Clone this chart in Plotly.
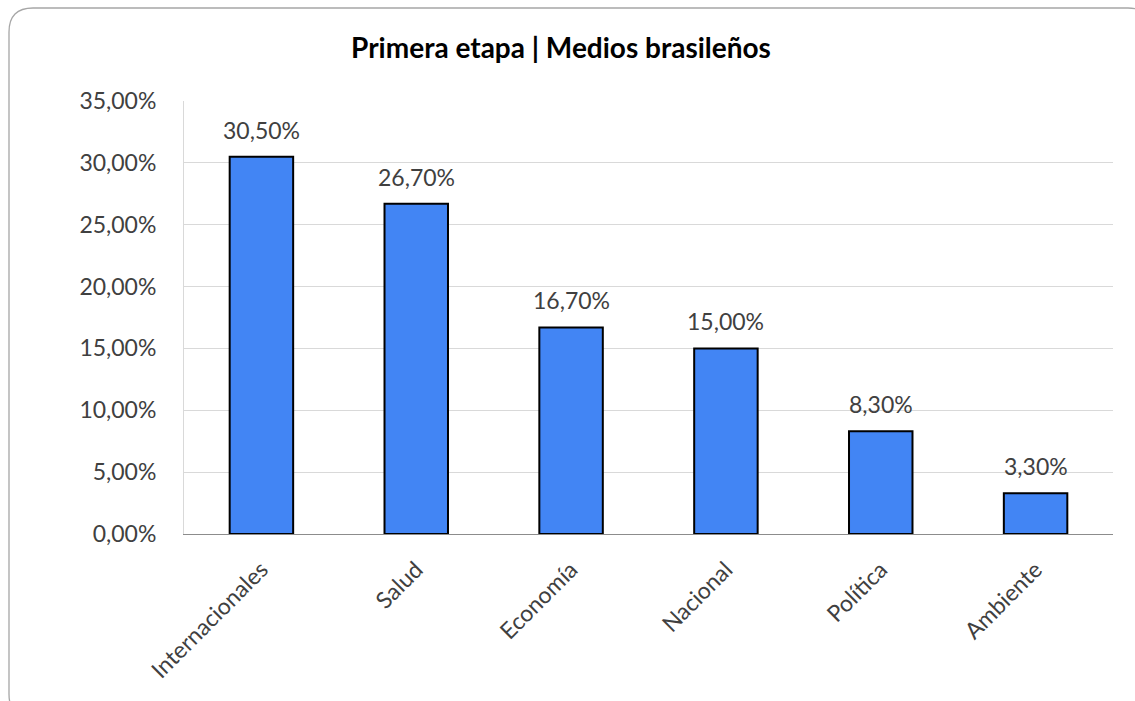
import plotly.graph_objects as go

# Topic shares for the first stage, Brazilian media
categories = ["Internacionales", "Salud", "Economía", "Nacional", "Política", "Ambiente"]
shares = [0.305, 0.267, 0.167, 0.150, 0.083, 0.033]
y_ticks = [0.0, 0.05, 0.10, 0.15, 0.20, 0.25, 0.30, 0.35]

W, H = 1135, 701
L, R, T, B = 184, 1113, 101, 534  # plot-area edges in pixels

TEXT = "#404040"
FONT = "Lato"


def pct_es(v):
    return f"{v * 100:.2f}%".replace(".", ",")


fig = go.Figure()
fig.add_trace(go.Bar(
    x=categories,
    y=shares,
    marker=dict(color="#4285F4", line=dict(color="#000000", width=2)),
    width=0.41,
    hoverinfo="x+y",
))

# Value labels above each bar
for c, v in zip(categories, shares):
    fig.add_annotation(
        x=c, y=v, text=pct_es(v), showarrow=False,
        yanchor="middle", yshift=27,
        font=dict(family=FONT, size=23, color=TEXT),
    )


# Rounded frame around the whole chart, expressed in paper units
def px(x):
    return (x - L) / (R - L)


def py(y):
    return (B - y) / (B - T)


x0, y0, x1, y1, r = 9, 8, 1152, 718, 24
frame = (
    f"M {px(x0 + r)},{py(y0)} L {px(x1 - r)},{py(y0)} "
    f"Q {px(x1)},{py(y0)} {px(x1)},{py(y0 + r)} "
    f"L {px(x1)},{py(y1 - r)} Q {px(x1)},{py(y1)} {px(x1 - r)},{py(y1)} "
    f"L {px(x0 + r)},{py(y1)} Q {px(x0)},{py(y1)} {px(x0)},{py(y1 - r)} "
    f"L {px(x0)},{py(y0 + r)} Q {px(x0)},{py(y0)} {px(x0 + r)},{py(y0)} Z"
)
fig.add_shape(type="path", path=frame, xref="paper", yref="paper",
              line=dict(color="#a6a6a6", width=1.3), layer="above")

fig.update_layout(
    width=W, height=H,
    margin=dict(l=L, r=W - R, t=T, b=H - B, autoexpand=False),
    paper_bgcolor="white", plot_bgcolor="white",
    separators=",.",
    showlegend=False,
    title=dict(
        text="<b>Primera etapa | Medios brasileños</b>",
        x=561 / W, xanchor="center", y=1 - 48 / H, yanchor="middle",
        font=dict(family=FONT, size=28, color="#000000"),
    ),
    font=dict(family=FONT, color=TEXT),
)

fig.update_yaxes(
    range=[0, 0.35], tickvals=y_ticks, tickformat=".2%",
    showgrid=True, gridcolor="#d9d9d9", gridwidth=1,
    showline=True, linecolor="#d9d9d9", linewidth=1,
    zeroline=False, ticks="", ticklabelstandoff=22,
    tickfont=dict(family=FONT, size=23, color=TEXT),
)
fig.update_xaxes(
    tickangle=-45, showline=True, linecolor="#8c8c8c", linewidth=1.2,
    showgrid=False, ticks="", ticklabelstandoff=12,
    tickfont=dict(family=FONT, size=23, color=TEXT),
)

fig.write_html("out.html")
